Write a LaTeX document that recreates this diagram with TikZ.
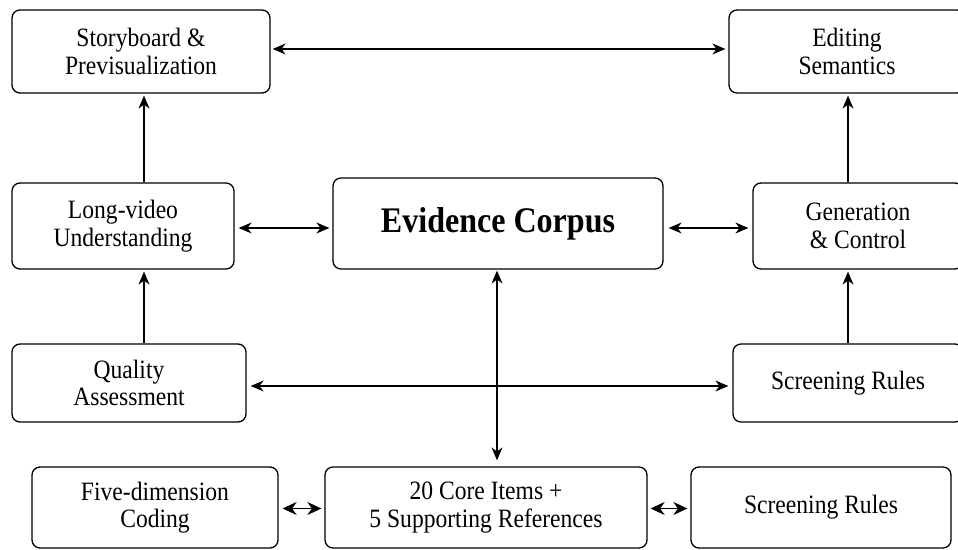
\documentclass[tikz,border=0pt]{standalone}
\usepackage{fontspec}
\setmainfont[FakeStretch=0.89]{Liberation Serif}
\usetikzlibrary{arrows.meta,calc}
\tikzset{
         box/.style={draw=black,line width=1.3pt,rounded corners=8pt,align=center,
                     inner sep=0pt,font=\fontsize{26.5}{27.5}\selectfont},
         link/.style={line width=1.1pt,{Stealth[length=13pt,width=11pt]}-{Stealth[length=13pt,width=11pt]}},
         uplink/.style={line width=1.1pt,-{Stealth[length=13pt,width=11pt]}},
         shortlink/.style={line width=1.1pt,{Stealth[length=14pt,width=13pt]}-{Stealth[length=14pt,width=13pt]}}
        }

\begin{document}
\begin{tikzpicture}[x=1pt,y=1pt]
\useasboundingbox (0,0) rectangle (958,549);

\node[box,minimum width=258pt,minimum height=83pt] (story) at (141,497.5) {Storyboard \&\\Previsualization};
\node[box,minimum width=236pt,minimum height=83pt] (edit) at (847,497.5) {Editing\\Semantics};
\node[box,minimum width=222pt,minimum height=86pt] (longvid) at (123,323) {Long-video\\Understanding};
\node[box,minimum width=330pt,minimum height=91pt,font=\fontsize{36}{40}\selectfont\bfseries] (corpus) at (498,325.5) {Evidence Corpus};
\node[box,minimum width=210pt,minimum height=86pt] (gen) at (858,323) {Generation\\\& Control};
\node[box,minimum width=234pt,minimum height=78pt] (quality) at (129,166) {Quality\\Assessment};
\node[box,minimum width=230pt,minimum height=78pt] (screenA) at (848,166) {Screening Rules};
\node[box,minimum width=246pt,minimum height=81pt] (fivedim) at (155,41.5) {Five-dimension\\Coding};
\node[box,minimum width=322pt,minimum height=81pt] (core) at (486,41.5) {20 Core Items +\\5 Supporting References};
\node[box,minimum width=260pt,minimum height=81pt] (screenB) at (821,41.5) {Screening Rules};

% top row
\draw[link] ($(story.east)+(2,2.5)$) -- ($(edit.west)+(-3,2.5)$);
% vertical flows
\draw[uplink] (longvid.north -| 144,0) -- ($(story.south -| 144,0)+(0,-2)$);
\draw[uplink] (quality.north -| 144,0) -- ($(longvid.south -| 144,0)+(0,-2)$);
\draw[uplink] (gen.north -| 848,0) -- ($(edit.south -| 848,0)+(0,-2)$);
\draw[uplink] (screenA.north -| 848,0) -- ($(gen.south -| 848,0)+(0,-2)$);
% middle row
\draw[link] ($(longvid.east)+(4,-2)$) -- ($(corpus.west |- longvid.east)+(-3,-2)$);
\draw[link] ($(corpus.east |- gen.west)+(5,-2)$) -- ($(gen.west)+(-4,-2)$);
% quality to screening
\draw[link] ($(quality.east)+(4,-3)$) -- ($(screenA.west)+(-4,-3)$);
% corpus to core items
\draw[link] ($(corpus.south -| 497,0)+(0,-1)$) -- ($(core.north -| 497,0)+(0,6)$);
% bottom row
\draw[shortlink] ($(fivedim.east)+(4,-1)$) -- ($(core.west)+(-3,-1)$);
\draw[shortlink] ($(core.east)+(3,-1)$) -- ($(screenB.west)+(-3,-1)$);

\end{tikzpicture}
\end{document}
